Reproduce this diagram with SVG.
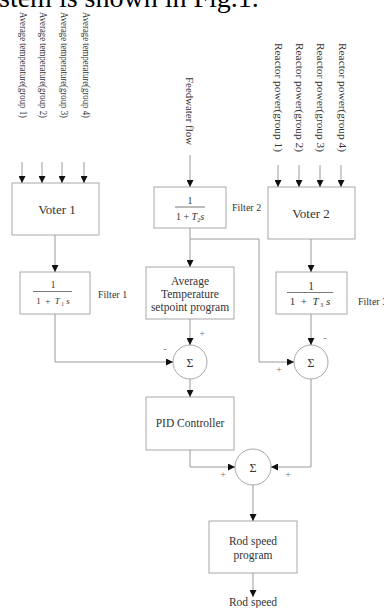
<svg xmlns="http://www.w3.org/2000/svg" width="384" height="608" viewBox="0 0 384 608">
<style>
.box{fill:#fff;stroke:#a8a8a8;stroke-width:1}
.ln{fill:none;stroke:#9a9a9a;stroke-width:1}
.arr{fill:none;stroke:#9a9a9a;stroke-width:1;marker-end:url(#ah)}
.t{font-family:"Liberation Serif","Times New Roman",serif;fill:#333}
.sg{font-family:"Liberation Serif","Times New Roman",serif;fill:#777;font-size:10px;text-anchor:middle}
.c{text-anchor:middle}
.i{font-style:italic}
</style>
<defs>
<marker id="ah" markerWidth="8" markerHeight="7" refX="7" refY="3.5" orient="auto" markerUnits="userSpaceOnUse">
<path d="M0,0 L7,3.5 L0,7 z" fill="#111"/>
</marker>
</defs>
<rect width="384" height="608" fill="#fff"/>
<text class="t" x="-1" y="7" font-size="28" fill="#000" style="fill:#000">stem is shown in Fig.1.</text>

<g id="inputs">
<text class="t" font-size="9.5" textLength="106" lengthAdjust="spacingAndGlyphs" transform="translate(20,12) rotate(90)">Average temperature(group 1)</text>
<text class="t" font-size="9.5" textLength="106" lengthAdjust="spacingAndGlyphs" transform="translate(40,12) rotate(90)">Average temperature(group 2)</text>
<text class="t" font-size="9.5" textLength="106" lengthAdjust="spacingAndGlyphs" transform="translate(61,12) rotate(90)">Average temperature(group 3)</text>
<text class="t" font-size="9.5" textLength="106" lengthAdjust="spacingAndGlyphs" transform="translate(83,12) rotate(90)">Average temperature(group 4)</text>
<text class="t" font-size="11" textLength="68" lengthAdjust="spacingAndGlyphs" transform="translate(186,77) rotate(90)">Feedwater flow</text>
<text class="t" font-size="11" textLength="109" lengthAdjust="spacingAndGlyphs" transform="translate(275,43) rotate(90)">Reactor power(group 1)</text>
<text class="t" font-size="11" textLength="109" lengthAdjust="spacingAndGlyphs" transform="translate(296,43) rotate(90)">Reactor power(group 2)</text>
<text class="t" font-size="11" textLength="109" lengthAdjust="spacingAndGlyphs" transform="translate(317,43) rotate(90)">Reactor power(group 3)</text>
<text class="t" font-size="11" textLength="109" lengthAdjust="spacingAndGlyphs" transform="translate(339,43) rotate(90)">Reactor power(group 4)</text>
</g>

<g id="voter1">
<rect class="box" x="12" y="183" width="87" height="52"/>
<text class="t c" x="57" y="213.5" font-size="13">Voter 1</text>
</g>

<g id="filter1">
<rect class="box" x="20" y="272" width="70" height="42"/>
<text class="t c" x="53" y="288" font-size="9.5">1</text>
<line x1="33" y1="291.5" x2="72" y2="291.5" stroke="#555" stroke-width="0.8"/>
<text class="t c" x="53" y="304" font-size="9" xml:space="preserve">1  +  <tspan class="i">T</tspan><tspan font-size="5.5" dy="1.5"> 1</tspan><tspan class="i" dy="-1.5"> s</tspan></text>
<text class="t" x="98" y="297.5" font-size="10">Filter 1</text>
</g>

<g id="filter2">
<rect class="box" x="154" y="187" width="72" height="41"/>
<text class="t c" x="190" y="203.5" font-size="10">1</text>
<line x1="175" y1="207" x2="205" y2="207" stroke="#555" stroke-width="0.8"/>
<text class="t c" x="190" y="219.5" font-size="10">1 + <tspan class="i">T</tspan><tspan font-size="6" dy="2">2</tspan><tspan class="i" dy="-2">s</tspan></text>
<text class="t" x="232" y="211" font-size="10">Filter 2</text>
</g>

<g id="avgtemp">
<rect class="box" x="146" y="267" width="88" height="52"/>
<text class="t c" x="190" y="285" font-size="11.5">Average</text>
<text class="t c" x="190" y="297.5" font-size="11.5">Temperature</text>
<text class="t c" x="190" y="311" font-size="11.5">setpoint program</text>
</g>

<g id="voter2">
<rect class="box" x="268" y="187" width="87" height="52"/>
<text class="t c" x="311" y="217.5" font-size="13">Voter 2</text>
</g>

<g id="filter3">
<rect class="box" x="276" y="272" width="71" height="42"/>
<text class="t c" x="311" y="289.5" font-size="11.5">1</text>
<line x1="287" y1="292.5" x2="333" y2="292.5" stroke="#555" stroke-width="0.8"/>
<text class="t c" x="310" y="305" font-size="11" xml:space="preserve">1  +  <tspan class="i">T</tspan><tspan font-size="6" dy="1.5"> 3</tspan><tspan class="i" dy="-1.5"> s</tspan></text>
<text class="t" x="358" y="305" font-size="10">Filter 3</text>
</g>

<g id="sum1">
<circle class="box" cx="190" cy="362" r="17"/>
<text class="t c" x="190" y="366.5" font-size="12">Σ</text>
</g>

<g id="sum2">
<circle class="box" cx="311" cy="362" r="17"/>
<text class="t c" x="311" y="366.5" font-size="12">Σ</text>
</g>

<g id="pid">
<rect class="box" x="146" y="397" width="88" height="53"/>
<text class="t c" x="190" y="427" font-size="11.5">PID Controller</text>
</g>

<g id="sum3">
<circle class="box" cx="253" cy="467" r="18"/>
<text class="t c" x="253" y="471.5" font-size="12">Σ</text>
</g>

<g id="rodspeed">
<rect class="box" x="209" y="521" width="88" height="52"/>
<text class="t c" x="253" y="545" font-size="11.5">Rod speed</text>
<text class="t c" x="253" y="558.5" font-size="11.5">program</text>
</g>

<g id="output">
<text class="t c" x="253" y="606" font-size="11.5">Rod speed</text>
</g>

<g id="connectors">
<line class="arr" x1="22" y1="162" x2="22" y2="183"/>
<line class="arr" x1="42" y1="162" x2="42" y2="183"/>
<line class="arr" x1="62" y1="162" x2="62" y2="183"/>
<line class="arr" x1="84" y1="162" x2="84" y2="183"/>
<line class="arr" x1="190" y1="155" x2="190" y2="187"/>
<line class="arr" x1="278" y1="165" x2="278" y2="187"/>
<line class="arr" x1="299" y1="165" x2="299" y2="187"/>
<line class="arr" x1="320" y1="165" x2="320" y2="187"/>
<line class="arr" x1="341" y1="165" x2="341" y2="187"/>
<line class="arr" x1="55" y1="235" x2="55" y2="272"/>
<polyline class="arr" points="55,314 55,362 173,362"/>
<line class="arr" x1="190" y1="228" x2="190" y2="267"/>
<polyline class="arr" points="190,239 259,239 259,362 294,362"/>
<line class="arr" x1="190" y1="319" x2="190" y2="345"/>
<line class="arr" x1="311" y1="239" x2="311" y2="272"/>
<line class="arr" x1="311" y1="314" x2="311" y2="345"/>
<line class="arr" x1="190" y1="379" x2="190" y2="397"/>
<polyline class="arr" points="190,450 190,467 235,467"/>
<polyline class="arr" points="311,379 311,467 271,467"/>
<line class="arr" x1="253" y1="485" x2="253" y2="521"/>
<line class="arr" x1="253" y1="573" x2="253" y2="597"/>
</g>

<g id="signs">
<text class="sg" x="165" y="352">-</text>
<text class="sg" x="202" y="337">+</text>
<text class="sg" x="325" y="341">-</text>
<text class="sg" x="279" y="373">+</text>
<text class="sg" x="223" y="478">+</text>
<text class="sg" x="288" y="478">+</text>
</g>
</svg>
